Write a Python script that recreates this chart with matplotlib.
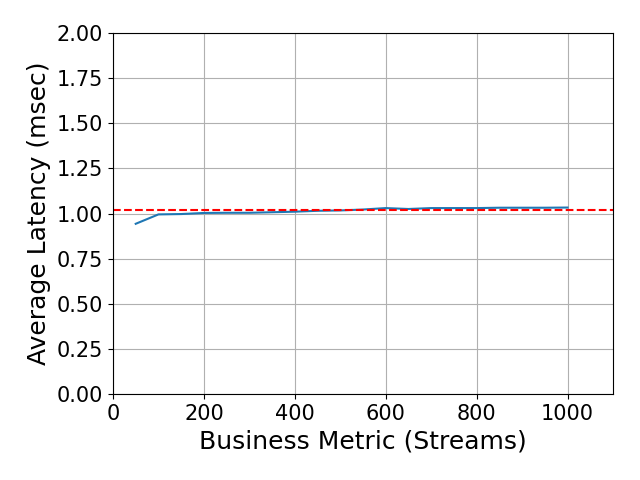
import matplotlib
matplotlib.use('Agg')
import matplotlib.pyplot as plt

# streams vs average latency
streams = [50, 100, 150, 200, 250, 300, 350, 400, 450, 500,
           550, 600, 650, 700, 750, 800, 850, 900, 950, 1000]
latency = [0.943, 0.995, 0.997, 1.003, 1.004, 1.004, 1.007, 1.010, 1.015, 1.017,
           1.022, 1.030, 1.025, 1.030, 1.030, 1.030, 1.032, 1.032, 1.032, 1.033]
baseline = 1.021

fig = plt.figure(figsize=(6.4, 4.8), dpi=100)
ax = fig.add_axes([113/640, 1-394/480, 500/640, 361/480])
ax.plot(streams, latency, color='#1f77b4')
ax.axhline(baseline, color='red', linestyle='--')
ax.set_xlim(0, 1100)
ax.set_ylim(0, 2.0)
ax.set_yticks([i * 0.25 for i in range(9)])
ax.set_xticks([0, 200, 400, 600, 800, 1000])
ax.grid(True)
ax.tick_params(labelsize=15)
ax.set_xlabel('Business Metric (Streams)', fontsize=18)
ax.set_ylabel('Average Latency (msec)', fontsize=18)
fig.savefig('out.png', dpi=100)
